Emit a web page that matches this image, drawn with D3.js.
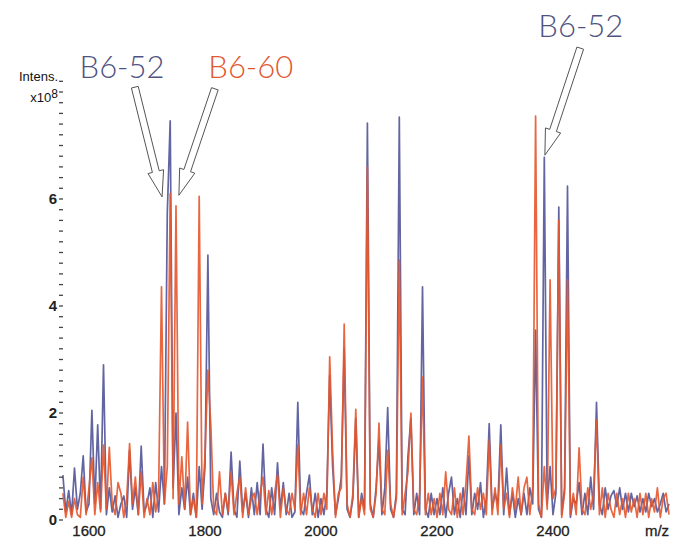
<!DOCTYPE html>
<html><head><meta charset="utf-8">
<script src="https://cdn.jsdelivr.net/npm/d3@7"></script>
<style>
html,body{margin:0;padding:0;background:#fff;}
svg{display:block;}
</style></head>
<body>
<svg id="chart" width="683" height="539"></svg>
<script>
// m/z grid: 1555 .. 2600, step 5
const mzStart = 1555, mzStep = 5;
const xTicks = [1600, 1800, 2000, 2200, 2400];
const yTicks = [0, 2, 4, 6];

// B6-52 (blue) intensities, x10^8
const seriesB652 = [
  0.84,0.15,0.55,0.10,0.97,0.20,0.50,1.20,0.15,0.30,
  2.05,0.30,1.78,0.20,2.90,0.10,0.60,0.15,0.45,0.05,
  0.30,0.45,0.05,1.30,0.20,0.60,0.10,1.38,0.15,0.30,
  0.60,0.05,0.70,0.15,1.00,0.30,5.74,7.46,0.60,2.00,
  0.10,0.60,0.20,0.80,0.10,0.50,0.05,1.00,0.20,1.00,
  4.95,0.40,0.10,0.50,0.15,0.05,0.50,0.10,1.27,0.20,
  0.05,1.10,0.15,0.50,0.05,0.60,0.10,0.70,0.10,1.42,
  0.20,0.05,0.60,0.10,1.07,0.20,0.70,0.10,0.50,0.05,
  0.15,2.20,0.20,0.10,0.50,0.84,0.10,0.50,0.05,0.40,
  0.10,0.50,2.70,1.00,0.10,0.40,0.80,3.20,0.20,0.05,
  0.40,1.90,0.05,0.50,0.20,7.42,0.30,0.05,0.60,1.50,
  0.10,0.60,2.10,0.20,0.05,0.50,7.53,0.20,0.10,1.20,
  1.90,0.10,0.50,0.10,4.36,0.20,0.05,0.50,0.10,0.40,
  0.10,0.60,0.05,0.50,0.80,0.10,0.40,0.05,0.60,0.10,
  1.20,0.10,0.50,0.20,0.70,0.05,0.40,1.80,0.20,0.50,
  0.30,1.78,0.10,0.97,0.10,0.50,0.05,0.40,0.10,0.50,
  0.10,0.60,0.30,3.55,0.20,0.05,6.78,0.30,1.00,0.10,
  0.50,5.85,0.10,0.60,6.24,0.05,0.40,0.30,0.70,0.10,
  0.50,0.10,0.80,0.20,2.20,0.30,0.10,0.60,0.20,0.45,
  0.55,0.25,0.60,0.20,0.50,0.15,0.50,0.25,0.45,0.15,
  0.40,0.15,0.50,0.25,0.40,0.15,0.30,0.50,0.15,0.30
];
// B6-60 (orange) intensities, x10^8
const seriesB660 = [
  0.50,0.05,0.35,0.05,0.40,0.10,0.05,0.80,0.10,0.60,
  1.16,0.10,0.70,0.15,1.40,0.20,1.36,0.30,0.10,0.70,
  0.50,0.05,0.40,1.43,0.30,0.80,0.10,0.90,0.05,0.40,
  0.10,0.70,0.15,0.50,4.36,0.30,1.00,6.10,0.40,5.87,
  0.30,1.18,0.20,1.83,0.10,0.40,0.05,6.05,0.30,1.20,
  2.80,1.78,0.20,0.10,0.90,0.10,0.50,0.15,0.90,0.10,
  0.50,0.80,0.05,0.60,0.10,0.40,0.50,0.10,0.50,0.80,
  0.10,0.55,0.10,0.50,0.85,0.05,0.60,0.20,0.10,0.50,
  0.20,1.40,0.10,0.50,0.10,0.60,0.20,0.05,0.50,0.10,
  0.50,0.20,3.05,1.30,0.05,0.50,0.60,3.66,0.30,0.05,
  0.50,2.07,0.05,0.40,0.10,6.60,0.20,0.05,0.50,1.81,
  0.20,0.10,1.30,0.30,0.05,0.40,4.86,0.10,0.50,0.90,
  2.00,0.20,0.10,0.50,2.67,0.10,0.50,0.10,0.40,0.05,
  0.50,0.10,0.90,0.20,0.10,0.60,0.05,0.50,0.10,0.70,
  1.57,0.20,0.10,0.60,0.20,0.50,0.10,1.50,0.10,0.60,
  0.10,1.40,0.20,0.50,0.05,0.60,0.20,0.80,0.10,0.60,
  0.80,0.10,0.60,7.55,0.30,0.05,1.00,0.20,4.49,0.40,
  0.60,5.60,0.05,0.50,4.49,0.10,0.50,0.10,1.35,0.20,
  0.10,0.60,0.20,0.50,1.87,0.10,0.60,0.05,0.50,0.20,
  0.05,0.50,0.10,0.40,0.05,0.50,0.15,0.40,0.05,0.50,
  0.10,0.50,0.05,0.40,0.15,0.60,0.05,0.40,0.50,0.10
];
// annotations: label, colour key, tail (mz,int), tip (mz,int), label position (mz,int)
const annotLabels = ["B6-52", "B6-60", "B6-52"];
const annotSeries = ["b", "o", "b"];
const annotTail = [[1679, 8.09], [1817, 8.06], [2447, 8.82]];
const annotTip  = [[1726, 6.04], [1755, 6.07], [2386, 6.82]];
const annotText = [[1657, 8.27], [1879, 8.27], [2448, 9.02]];

const colB = "#5a5d9c", colO = "#e5562c";
const txtB = "#4f5382", txtO = "#e2572f";

const svg = d3.select("#chart");
const x = d3.scaleLinear().domain([1600, 2400]).range([89, 553]);
const y = d3.scaleLinear().domain([0, 8]).range([520, 92]);

const mzOf = i => mzStart + i * mzStep;
const line = d3.line().x((d, i) => x(mzOf(i))).y(d => y(d));

svg.append("path").datum(seriesB652).attr("d", line)
  .attr("fill", "none").attr("stroke", colB).attr("stroke-width", 1.7)
  .attr("stroke-linejoin", "round").attr("opacity", 0.95);
svg.append("path").datum(seriesB660).attr("d", line)
  .attr("fill", "none").attr("stroke", colO).attr("stroke-width", 1.7)
  .attr("stroke-linejoin", "round").attr("opacity", 0.9);

// y axis: minor ticks every 0.2 and labels
const axX = 59;
const minor = d3.range(0, 8.31, 0.2);
svg.append("g").selectAll("line").data(minor).join("line")
  .attr("x1", axX).attr("x2", axX + 4)
  .attr("y1", d => y(d)).attr("y2", d => y(d))
  .attr("stroke", "#444").attr("stroke-width", 1.3);
svg.append("g").selectAll("text").data(yTicks).join("text")
  .attr("x", axX - 2).attr("y", d => y(d) + 5)
  .attr("text-anchor", "end")
  .attr("font-family", "Liberation Sans, Arial, sans-serif")
  .attr("font-size", 15).attr("font-weight", "bold").attr("fill", "#222")
  .text(d => d);

svg.append("text").attr("x", axX - 1).attr("y", 81)
  .attr("text-anchor", "end")
  .attr("font-family", "Liberation Sans, Arial, sans-serif")
  .attr("font-size", 13).attr("fill", "#111").text("Intens.");
const t2 = svg.append("text").attr("x", axX - 1).attr("y", 102)
  .attr("text-anchor", "end")
  .attr("font-family", "Liberation Sans, Arial, sans-serif")
  .attr("font-size", 13).attr("fill", "#111");
t2.append("tspan").text("x10");
t2.append("tspan").attr("dy", -4).attr("font-size", 12).text("8");

// x axis labels
svg.append("g").selectAll("text").data(xTicks).join("text")
  .attr("x", d => x(d)).attr("y", 536)
  .attr("text-anchor", "middle")
  .attr("font-family", "Liberation Sans, Arial, sans-serif")
  .attr("font-size", 15).attr("fill", "#222")
  .attr("stroke", "#222").attr("stroke-width", 0.3)
  .text(d => d);
svg.append("text").attr("x", 657).attr("y", 536).attr("text-anchor", "middle")
  .attr("font-family", "Liberation Sans, Arial, sans-serif")
  .attr("font-size", 15).attr("fill", "#222")
  .attr("stroke", "#222").attr("stroke-width", 0.3).text("m/z");

// hollow arrows
function arrowPath(x0, y0, x1, y1) {
  const dx = x1 - x0, dy = y1 - y0, L = Math.hypot(dx, dy);
  const ux = dx / L, uy = dy / L, px = -uy, py = ux;
  const sw = 3.5, hw = 8, hl = 26;
  const bx = x1 - ux * hl, by = y1 - uy * hl;
  const pts = [
    [x0 + px * sw, y0 + py * sw],
    [bx + px * sw, by + py * sw],
    [bx + px * hw, by + py * hw],
    [x1, y1],
    [bx - px * hw, by - py * hw],
    [bx - px * sw, by - py * sw],
    [x0 - px * sw, y0 - py * sw]
  ];
  return "M" + pts.map(p => p.join(",")).join("L") + "Z";
}
annotLabels.forEach((lab, i) => {
  svg.append("path")
    .attr("d", arrowPath(x(annotTail[i][0]), y(annotTail[i][1]), x(annotTip[i][0]), y(annotTip[i][1])))
    .attr("fill", "#fff").attr("stroke", "#555").attr("stroke-width", 1);
  svg.append("text")
    .attr("x", x(annotText[i][0])).attr("y", y(annotText[i][1]))
    .attr("text-anchor", "middle")
    .attr("font-family", "Lato, 'DejaVu Sans', sans-serif")
    .attr("font-weight", 300)
    .attr("font-size", 31)
    .attr("fill", annotSeries[i] === "b" ? txtB : txtO)
    .text(lab);
});
</script>
</body></html>
